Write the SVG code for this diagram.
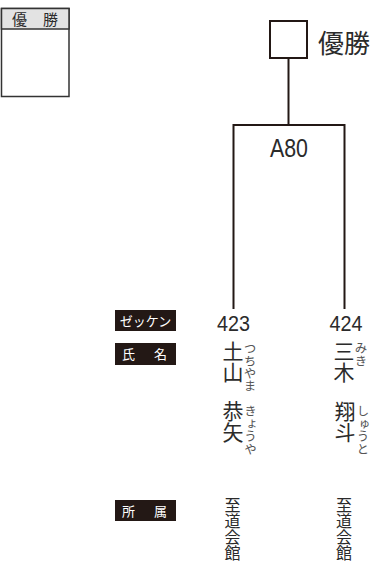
<svg xmlns="http://www.w3.org/2000/svg" width="372" height="565" viewBox="0 0 372 565">
<style>
.jp{font-family:"Noto Sans CJK JP","Noto Sans",sans-serif;fill:#2b2b2b}
.num{font-family:"Liberation Sans",Arial,sans-serif;fill:#2b2b2b}
.v{writing-mode:vertical-rl}
.ln{fill:none;stroke:#231815;stroke-width:2}
.lbl{fill:#231815}
.lt{font-family:"Noto Sans CJK JP",sans-serif;fill:#fff;font-size:13px}
.fu{font-size:12.5px;fill:#555}
</style>
<rect width="372" height="565" fill="#fff"/>
<g id="winner-box">
<rect x="1.5" y="8.5" width="67.5" height="88" fill="#fff" stroke="#333" stroke-width="1.5"/>
<rect x="1.5" y="8.5" width="67.5" height="20.5" fill="#e3e3e3" stroke="#333" stroke-width="1.5"/>
<text class="jp" x="12" y="25" font-size="15">優</text>
<text class="jp" x="43" y="25" font-size="15">勝</text>
</g>
<g id="connectors">
<path class="ln" d="M233.5 309V125H344.5V309"/>
<path class="ln" d="M288.5 59V125"/>
</g>
<g id="champion">
<rect x="270" y="21" width="37" height="37" fill="#fff" stroke="#231815" stroke-width="2"/>
<text class="jp" x="318" y="53" font-size="26">優勝</text>
</g>
<g id="match-A80">
<text class="num" x="289" y="157" font-size="26" text-anchor="middle" textLength="38" lengthAdjust="spacingAndGlyphs">A80</text>
</g>
<g id="labels">
<rect class="lbl" x="115" y="310" width="61" height="21"/>
<text class="lt" x="145.5" y="325.5" text-anchor="middle">ゼッケン</text>
<rect class="lbl" x="115" y="343" width="61" height="22"/>
<text class="lt" x="122" y="359" font-size="14">氏</text>
<text class="lt" x="154" y="359" font-size="14">名</text>
<rect class="lbl" x="115" y="500" width="61" height="21"/>
<text class="lt" x="122" y="516" font-size="14">所</text>
<text class="lt" x="154" y="516" font-size="14">属</text>
</g>
<g id="player-423">
<text class="num" x="233.5" y="331" font-size="22" text-anchor="middle" textLength="33" lengthAdjust="spacingAndGlyphs">423</text>
<text class="jp v" x="233" y="341" font-size="21">土山</text>
<text class="jp v fu" x="250" y="342">つちやま</text>
<text class="jp v" x="233" y="401" font-size="21">恭矢</text>
<text class="jp v fu" x="250.5" y="405">きょうや</text>
<text class="jp v" x="232.5" y="497" font-size="16">至道会館</text>
</g>
<g id="player-424">
<text class="num" x="346" y="331" font-size="22" text-anchor="middle" textLength="33" lengthAdjust="spacingAndGlyphs">424</text>
<text class="jp v" x="344" y="341" font-size="21">三木</text>
<text class="jp v fu" x="361" y="342">みき</text>
<text class="jp v" x="345" y="401" font-size="21">翔斗</text>
<text class="jp v fu" x="363" y="405">しゅうと</text>
<text class="jp v" x="344" y="497" font-size="16">至道会館</text>
</g>
</svg>
